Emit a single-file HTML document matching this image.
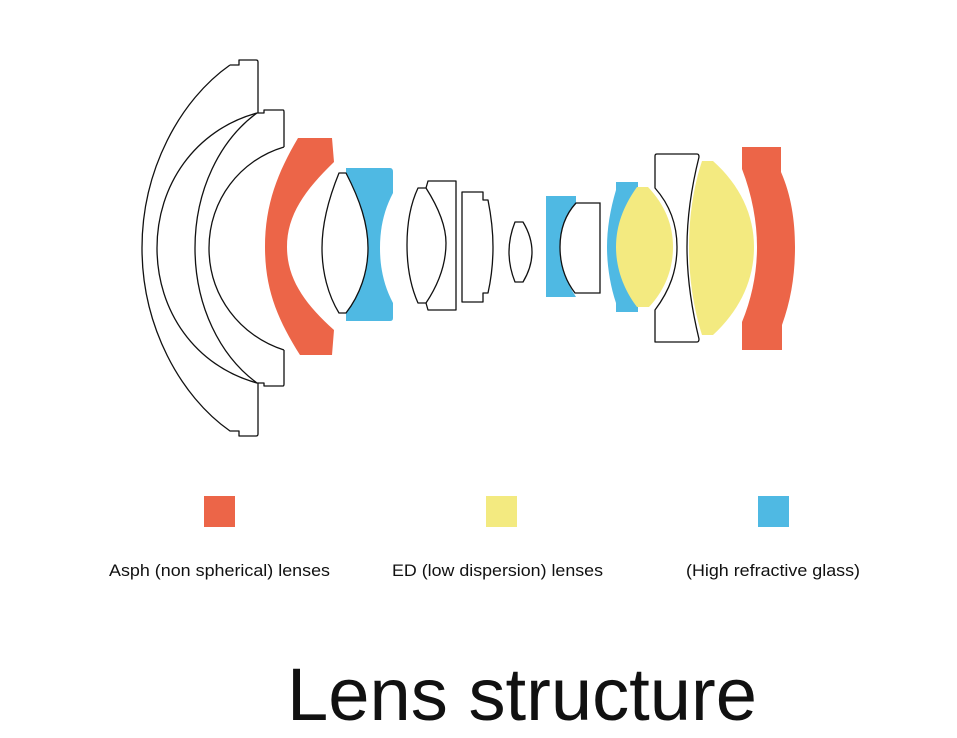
<!DOCTYPE html>
<html><head><meta charset="utf-8"><style>
html,body{margin:0;padding:0;background:#fff;width:957px;height:738px;overflow:hidden}
svg{display:block}
text{font-family:"Liberation Sans",Arial,sans-serif;fill:#111}
</style></head><body>
<svg width="957" height="738" viewBox="0 0 957 738" xmlns="http://www.w3.org/2000/svg">
<g fill="none" stroke="#111" stroke-width="1.3" stroke-linejoin="round">
<!-- lens 1 -->
<path d="M230,65 L239,65 L239,60 L256,60 Q258,60 258,62 L258,113 M230,65 C180,100 142,170 142,248 C142,326 180,396 230,431 L239,431 L239,436 L256,436 Q258,436 258,434 L258,383"/>
<path d="M257,113 C195,130 157,185 157,248 C157,311 195,366 257,383"/>
<!-- lens 2 -->
<path d="M257,113 L264,113 L264,110 L283,110 Q284,110 284,112 L284,147 M257,113 C220,140 195,190 195,248 C195,306 220,356 257,383 L264,383 L264,386 L283,386 Q284,386 284,384 L284,350 M284,147 C240,160 209,200 209,248 C209,296 240,336 284,350"/>
</g>
<!-- orange 1 -->
<path fill="#EC6548" d="M298,138 L332,138 L334,162 C305,190 287,215 287,247 C287,279 305,304 334,330 L332,355 L300,355 C278,320 265,290 265,247 C265,204 278,172 298,138 Z"/>
<!-- blue 1 -->
<path fill="#4FB9E3" d="M346,168 L390,168 Q393,168 393,172 L393,193 C384,210 380,228 380,248 C380,268 384,286 393,303 L393,318 Q393,321 390,321 L346,321 L346,313 C360,295 368,272 368,248 C368,224 360,200 346,173 Z"/>
<g fill="none" stroke="#111" stroke-width="1.3" stroke-linejoin="round">
<path d="M339,173 L346,173 C360,200 368,224 368,248 C368,272 360,295 346,313 L339,313 C328,295 322,272 322,248 C322,224 328,200 339,173 Z"/>
<!-- doublet -->
<path d="M418,188 L426,188 C440,210 446,228 446,243 C446,262 440,282 426,303 L418,303 C410,285 407,265 407,245 C407,225 410,205 418,188 Z"/>
<path d="M426,188 L428,181 L456,181 L456,310 L428,310 L426,303"/>
<path d="M462,192 L483,192 L483,200 L488,200 C492,220 493,235 493,247 C493,260 492,275 488,293 L483,293 L483,302 L462,302 Z"/>
<path d="M515,222 L523,222 C529,232 532,242 532,252 C532,262 529,272 523,282 L515,282 C511,272 509,262 509,252 C509,242 511,232 515,222 Z"/>
</g>
<!-- blue D -->
<path fill="#4FB9E3" d="M546,196 L576,196 L576,203 C565,215 560,230 560,247 C560,264 565,280 576,297 L546,297 Z"/>
<path fill="#fff" stroke="#111" stroke-width="1.3" d="M576,203 L600,203 L600,293 L575,293 C565,280 560,264 560,247 C560,230 565,215 576,203 Z"/>
<!-- blue F -->
<path fill="#4FB9E3" d="M616,182 L638,182 L638,312 L616,312 L616,303 C610,285 607,265 607,247 C607,229 610,210 616,190 Z"/>
<!-- yellow G -->
<path fill="#F3EA80" d="M637,187 L648,187 C665,205 673,225 673,247 C673,269 665,290 649,307 L637,307 C624,290 616,269 616,247 C616,225 624,205 637,187 Z"/>
<!-- white H -->
<path fill="#fff" stroke="#111" stroke-width="1.3" stroke-linejoin="round" d="M657,154 L697,154 Q699,154 699,157 C692,185 687,215 687,247 C687,280 692,310 699,339 Q699,342 697,342 L655,342 L655,310 C670,290 677,270 677,247 C677,224 670,205 655,188 L655,156 Q655,154 657,154 Z"/>
<!-- yellow I -->
<path fill="#F3EA80" d="M702,161 L713,161 C740,185 754,215 754,247 C754,280 740,310 713,335 L702,335 C694,310 689,280 689,247 C689,215 694,185 702,161 Z"/>
<!-- orange J -->
<path fill="#EC6548" d="M742,147 L781,147 L781,172 C791,195 795,220 795,247 C795,275 791,300 782,325 L782,350 L742,350 L742,322 C752,298 757,272 757,247 C757,222 752,195 742,169 Z"/>
<!-- legend -->
<rect x="204" y="496" width="31" height="31" fill="#EC6548"/>
<rect x="486" y="496" width="31" height="31" fill="#F3EA80"/>
<rect x="758" y="496" width="31" height="31" fill="#4FB9E3"/>
<text x="109" y="576" font-size="17" textLength="221" lengthAdjust="spacingAndGlyphs">Asph (non spherical) lenses</text>
<text x="392" y="576" font-size="17" textLength="211" lengthAdjust="spacingAndGlyphs">ED (low dispersion) lenses</text>
<text x="686" y="576" font-size="17" textLength="174" lengthAdjust="spacingAndGlyphs">(High refractive glass)</text>
<text x="287" y="720" font-size="74" textLength="470" lengthAdjust="spacingAndGlyphs">Lens structure</text>
</svg>
</body></html>
